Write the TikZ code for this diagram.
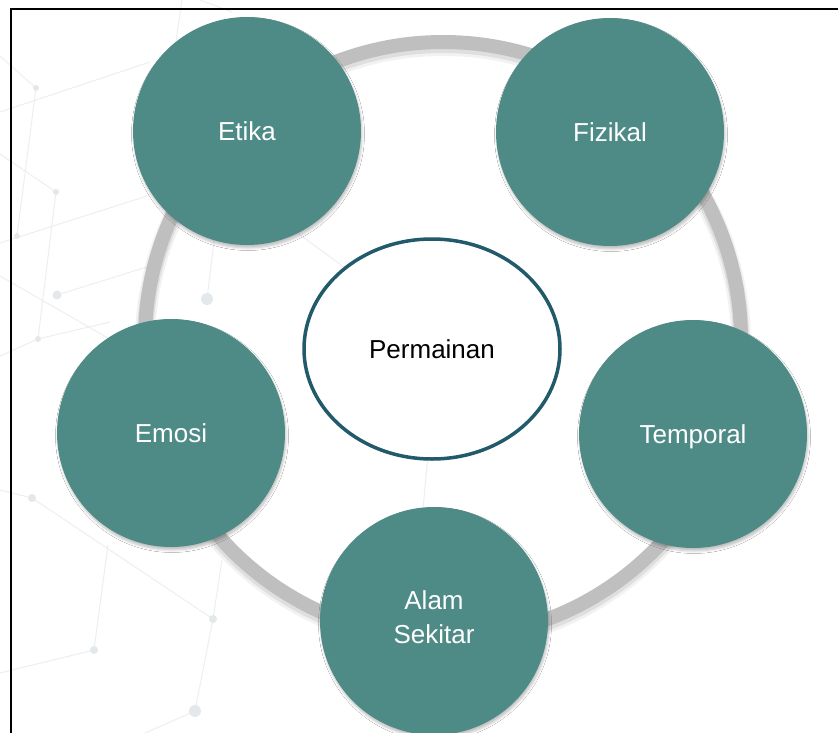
\documentclass[tikz,border=0pt]{standalone}
\usepackage{fontspec}
\setmainfont{Liberation Sans}
\usetikzlibrary{shapes.geometric,shadows.blur}
\definecolor{tealfill}{HTML}{4E8B87}
\definecolor{ringgray}{HTML}{BFBFBF}
\definecolor{edgeblue}{HTML}{215A6A}
\definecolor{netline}{HTML}{ECEFF1}
\definecolor{netdot}{HTML}{E3E8EB}
\tikzset{
  topic/.style={circle, minimum size=228pt, inner sep=0pt, fill=tealfill, text=white,
    font=\fontsize{26}{34}\selectfont, align=center,
    blur shadow={shadow xshift=1pt, shadow yshift=-3pt, shadow blur steps=5,
      shadow blur radius=2.5pt, shadow opacity=25}},
  hub/.style={ellipse, minimum width=256pt, minimum height=220pt, inner sep=0pt,
    draw=edgeblue, line width=3.5pt, fill=white, text=black,
    font=\fontsize{26}{34}\selectfont},
  netln/.style={draw=netline, line width=1pt},
  netdt/.style={fill=netdot},
  ringline/.style={draw=ringgray, line width=14pt},
  frameline/.style={draw=black, line width=1.2pt},
}
\begin{document}
\begin{tikzpicture}[x=1pt,y=-1pt]
\useasboundingbox (0,0) rectangle (838,733);
\clip (0,0) rectangle (838,733);
\fill[white] (0,0) rectangle (838,733);
% background network
\coordinate (nA) at (36,88);
\coordinate (nB) at (56,192);
\coordinate (nC) at (17,236);
\coordinate (nD) at (57,295);
\coordinate (nE) at (207,299);
\coordinate (nF) at (38,339);
\coordinate (nG) at (32,498);
\coordinate (nH) at (213,619);
\coordinate (nI) at (94,650);
\coordinate (nJ) at (195,711);
\path[netln] (0,56) -- (nA) -- (nC);
\path[netln] (0,112) -- (150,62);
\path[netln] (0,154) -- (nB) -- (nF);
\path[netln] (0,243) -- (150,195);
\path[netln] (nD) -- (150,266);
\path[netln] (nE) -- (215,233);
\path[netln] (0,276) -- (120,345);
\path[netln] (0,356) -- (nF) -- (110,322);
\path[netln] (0,490) -- (nG) -- (nH);
\path[netln] (0,673) -- (nI) -- (108,545);
\path[netln] (222,560) -- (nH) -- (nJ) -- (145,733);
\path[netln] (182,0) -- (173,61);
\path[netln] (200,0) -- (232,12);
\path[netln] (250,198) -- (345,268);
\path[netln] (428,455) -- (422,520);
\fill[netdt] (nA) circle (3pt);
\fill[netdt] (nB) circle (3pt);
\fill[netdt] (nC) circle (3pt);
\fill[netdt] (nD) circle (4.5pt);
\fill[netdt] (nE) circle (6pt);
\fill[netdt] (nF) circle (3pt);
\fill[netdt] (nG) circle (4pt);
\fill[netdt] (nH) circle (4pt);
\fill[netdt] (nI) circle (4pt);
\fill[netdt] (nJ) circle (6pt);
% frame
\draw[frameline] (11,733) -- (11,9) -- (838,9);
% ring with soft shadow
\coordinate (rc) at (443,340);
\draw[black, opacity=0.05, line width=20pt] ([yshift=-4pt]rc) circle (298pt);
\draw[black, opacity=0.08, line width=16pt] ([yshift=-3pt]rc) circle (298pt);
\draw[ringline] (rc) circle (298pt);
% hub
\node[hub] (perm) at (432,349) {Permainan};
% topics
\node[topic] (etika) at (247,131) {Etika};
\node[topic] (fizikal) at (610,132) {Fizikal};
\node[topic, text depth=0pt] (temporal) at (693,434) {Temporal};
\node[topic, text depth=8pt] (alam) at (434,621) {Alam\\Sekitar};
\node[topic] (emosi) at (171,433) {Emosi};
\end{tikzpicture}
\end{document}
